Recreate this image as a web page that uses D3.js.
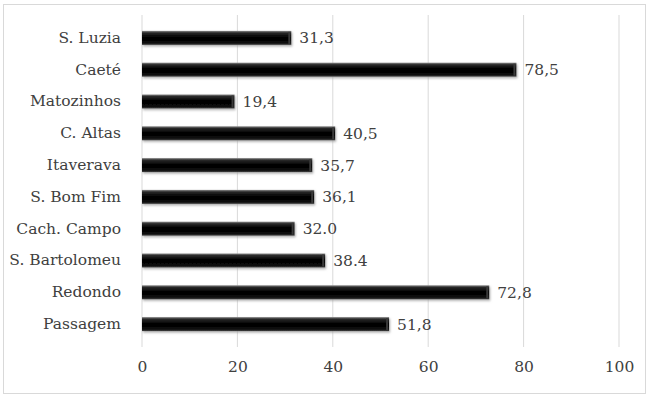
<!DOCTYPE html>
<html>
<head>
<meta charset="utf-8">
<script src="https://cdn.jsdelivr.net/npm/d3@7"></script>
<style>
  body { margin: 0; background: #fff; }
  svg text { font-family: "DejaVu Serif", "Liberation Serif", serif; fill: #404040; }
</style>
</head>
<body>
<svg id="chart" width="650" height="398"></svg>
<script>
// categories top to bottom
const places = ["S. Luzia", "Caeté", "Matozinhos", "C. Altas", "Itaverava",
                "S. Bom Fim", "Cach. Campo", "S. Bartolomeu", "Redondo", "Passagem"];
const values = [31.3, 78.5, 19.4, 40.5, 35.7, 36.1, 32.0, 38.4, 72.8, 51.8];
const valueLabels = ["31,3", "78,5", "19,4", "40,5", "35,7", "36,1", "32.0", "38.4", "72,8", "51,8"];
const xTicks = [0, 20, 40, 60, 80, 100];

const svg = d3.select("#chart");
const margin = { left: 142, right: 31, top: 22, bottom: 58 };
const width = 650, height = 398;
const fontSize = 15.5;

// outer frame
svg.append("rect")
    .attr("x", 3.5).attr("y", 4.5)
    .attr("width", 642).attr("height", 389)
    .attr("fill", "#fff").attr("stroke", "#d9d9d9");

const x = d3.scaleLinear()
    .domain([0, 100])
    .range([margin.left, width - margin.right]);

const y = d3.scaleBand()
    .domain(places)
    .range([margin.top, height - margin.bottom])
    .paddingInner(0.56)
    .paddingOuter(0.28);

const defs = svg.append("defs");
const grad = defs.append("linearGradient")
    .attr("id", "barGrad").attr("x1", 0).attr("y1", 0).attr("x2", 0).attr("y2", 1);
grad.append("stop").attr("offset", "0%").attr("stop-color", "#8a8a8a");
grad.append("stop").attr("offset", "14%").attr("stop-color", "#2a2a2a");
grad.append("stop").attr("offset", "45%").attr("stop-color", "#000");
grad.append("stop").attr("offset", "85%").attr("stop-color", "#0a0a0a");
grad.append("stop").attr("offset", "100%").attr("stop-color", "#444");

const shadow = defs.append("filter").attr("id", "shadow")
    .attr("x", "-5%").attr("y", "-30%").attr("width", "110%").attr("height", "170%");
shadow.append("feDropShadow")
    .attr("dx", 1).attr("dy", 1.5).attr("stdDeviation", 1)
    .attr("flood-color", "#999").attr("flood-opacity", 0.8);

// gridlines
const gridTop = y(places[0]) - y.step() * 0.5;
const gridBottom = y(places[places.length - 1]) + y.bandwidth() + y.step() * 0.5;
svg.append("g")
    .selectAll("line")
    .data(xTicks)
    .join("line")
    .attr("x1", d => x(d)).attr("x2", d => x(d))
    .attr("y1", gridTop).attr("y2", gridBottom)
    .attr("stroke", "#d9d9d9").attr("stroke-width", 1);

// x axis labels
const xAxis = d3.axisBottom(x).tickValues(xTicks).tickSize(0).tickPadding(14);
const gx = svg.append("g")
    .attr("transform", `translate(0,${gridBottom})`)
    .call(xAxis);
gx.select(".domain").remove();
gx.selectAll("text").attr("font-size", fontSize);
gx.attr("font-family", null).attr("font-size", null);

// y axis labels
const yAxis = d3.axisLeft(y).tickSize(0).tickPadding(21);
const gy = svg.append("g")
    .attr("transform", `translate(${margin.left},0)`)
    .call(yAxis);
gy.select(".domain").remove();
gy.selectAll("text").attr("font-size", fontSize);
gy.attr("font-family", null).attr("font-size", null);

// bars
svg.append("g")
    .selectAll("rect")
    .data(places)
    .join("rect")
    .attr("x", x(0))
    .attr("y", d => y(d))
    .attr("width", (d, i) => x(values[i]) - x(0))
    .attr("height", y.bandwidth())
    .attr("fill", "url(#barGrad)")
    .attr("filter", "url(#shadow)");

// bar end bevel
svg.append("g")
    .selectAll("rect")
    .data(places)
    .join("rect")
    .attr("x", (d, i) => x(values[i]) - 3)
    .attr("y", d => y(d) + 1)
    .attr("width", 2)
    .attr("height", y.bandwidth() - 2)
    .attr("fill", "#3a3a3a");

// value labels
svg.append("g")
    .selectAll("text")
    .data(places)
    .join("text")
    .attr("x", (d, i) => x(values[i]) + 8)
    .attr("y", d => y(d) + y.bandwidth() / 2)
    .attr("dy", "0.35em")
    .attr("font-size", fontSize)
    .text((d, i) => valueLabels[i]);
</script>
</body>
</html>
